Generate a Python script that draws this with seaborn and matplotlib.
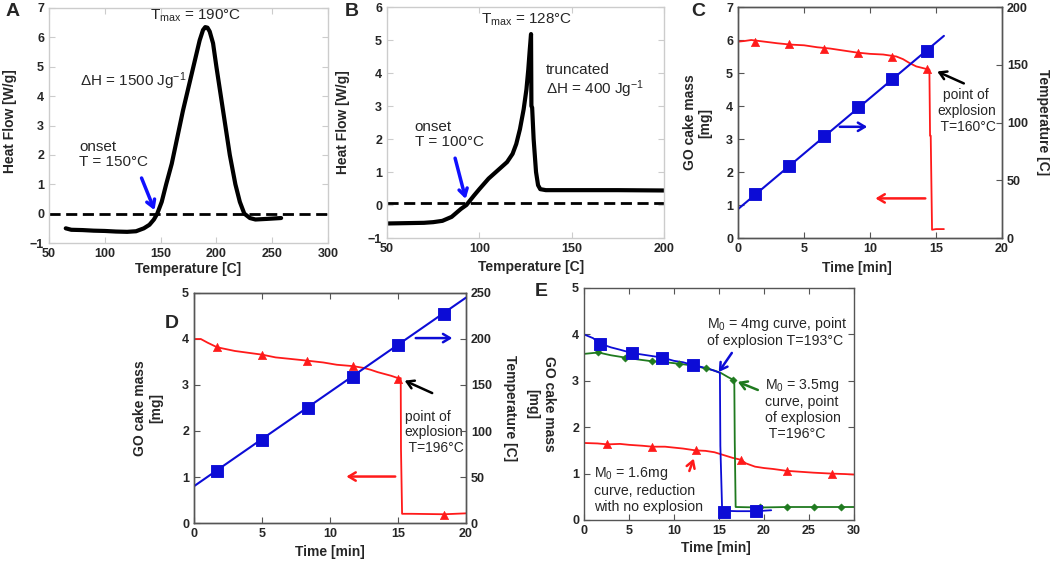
import numpy as np
import pandas as pd
import seaborn as sns
import matplotlib.pyplot as plt

# Panel A - DSC curve
a_temp = [65, 70, 80, 90, 100, 110, 120, 128, 135, 140, 144, 147, 151, 155, 160, 165, 170, 175, 180, 185, 188, 190, 192, 194, 197, 200, 204, 208, 212, 217, 221, 225, 230, 235, 245, 258]
a_flow = [-0.5, -0.55, -0.56, -0.58, -0.59, -0.61, -0.62, -0.6, -0.5, -0.38, -0.2, 0.0, 0.4, 1.0, 1.7, 2.6, 3.5, 4.3, 5.1, 5.9, 6.25, 6.35, 6.33, 6.2, 5.8, 5.0, 4.0, 3.0, 2.0, 1.0, 0.4, 0.0, -0.15, -0.2, -0.18, -0.15]

# Panel B - DSC curve (truncated)
b_temp = [50, 60, 70, 75, 80, 85, 90, 93, 97, 100, 105, 110, 115, 118, 120, 122, 124, 125.5, 126.5, 127.3, 128, 128.2, 128.6, 129.4, 130.7, 131.8, 133, 136, 150, 175, 200]
b_flow = [-0.56, -0.55, -0.54, -0.52, -0.48, -0.36, -0.12, 0.0, 0.28, 0.48, 0.8, 1.05, 1.3, 1.55, 1.85, 2.3, 2.9, 3.5, 4.1, 4.7, 5.18, 3.0, 2.95, 2.0, 1.0, 0.6, 0.48, 0.45, 0.45, 0.45, 0.44]

# Panel C
c_time = [0, 0.5, 1.0, 2.0, 3.0, 4.0, 5.0, 6.0, 7.0, 8.0, 9.0, 10.0, 11.0, 12.0, 12.5, 13.0, 13.5, 14.0, 14.5, 14.55, 14.6, 14.7, 15.0, 15.6]
c_mass = [5.95, 5.97, 6.0, 5.95, 5.9, 5.86, 5.84, 5.78, 5.74, 5.68, 5.62, 5.58, 5.56, 5.5, 5.42, 5.3, 5.2, 5.15, 5.1, 3.1, 3.1, 0.25, 0.27, 0.27]
c_mass_mk_t = [1.3, 3.9, 6.5, 9.1, 11.7, 14.3]
c_mass_mk = [5.95, 5.87, 5.74, 5.6, 5.5, 5.12]
c_temp_t = [0, 15.6]
c_temp = [25, 175]
c_temp_mk_t = [1.3, 3.9, 6.5, 9.1, 11.7, 14.3]
c_temp_mk = [38, 62, 88, 113, 138, 162]

# Panel D
d_time = [0, 0.5, 1.0, 1.7, 3.0, 4.0, 5.0, 6.0, 7.0, 8.3, 9.5, 10.5, 11.7, 12.5, 13.0, 13.5, 14.0, 14.5, 15.0, 15.2, 15.22, 15.3, 16.0, 18.4, 20.0]
d_mass = [4.0, 4.0, 3.92, 3.82, 3.74, 3.7, 3.66, 3.6, 3.57, 3.53, 3.49, 3.44, 3.41, 3.37, 3.33, 3.28, 3.24, 3.2, 3.15, 3.15, 1.6, 0.2, 0.2, 0.19, 0.21]
d_mass_mk_t = [1.7, 5.0, 8.3, 11.7, 15.0, 18.4]
d_mass_mk = [3.82, 3.65, 3.53, 3.41, 3.12, 0.18]
d_temp_t = [0, 20]
d_temp = [40, 245]
d_temp_mk_t = [1.7, 5.0, 8.35, 11.7, 15.0, 18.4]
d_temp_mk = [57, 90, 125, 159, 193, 227]

# Panel E
e4_time = [0, 1.0, 1.8, 3.0, 4.0, 5.3, 7.0, 8.7, 10.0, 11.0, 12.1, 13.0, 14.0, 15.0, 15.1, 15.15, 15.35, 17.0, 19.1, 20.8]
e4_mass = [4.0, 3.92, 3.8, 3.72, 3.67, 3.6, 3.55, 3.5, 3.43, 3.4, 3.34, 3.3, 3.25, 3.18, 3.17, 1.6, 0.2, 0.19, 0.19, 0.21]
e4_mk_t = [1.8, 5.3, 8.7, 12.1, 15.6, 19.1]
e4_mk = [3.8, 3.6, 3.5, 3.34, 0.17, 0.19]
e35_time = [0, 1.6, 3.0, 4.6, 6.0, 7.6, 9.0, 10.5, 12.0, 13.5, 14.5, 15.2, 16.0, 16.6, 16.7, 16.75, 16.85, 19.5, 22.6, 25.6, 28.6, 30.0]
e35_mass = [3.58, 3.61, 3.55, 3.5, 3.46, 3.42, 3.4, 3.37, 3.33, 3.27, 3.22, 3.17, 3.08, 3.02, 3.0, 1.7, 0.28, 0.27, 0.28, 0.28, 0.28, 0.28]
e35_mk_t = [1.6, 4.6, 7.6, 10.5, 13.5, 16.6, 19.5, 22.6, 25.6, 28.6]
e35_mk = [3.61, 3.49, 3.42, 3.37, 3.27, 3.02, 0.28, 0.28, 0.28, 0.28]
e16_time = [0, 1.5, 2.6, 4.0, 5.0, 6.5, 7.6, 9.0, 10.0, 11.0, 12.4, 13.5, 14.5, 15.5, 16.5, 17.4, 18.0, 19.0, 20.0, 21.0, 22.5, 24.0, 25.5, 27.5, 29.0, 30.0]
e16_mass = [1.66, 1.65, 1.63, 1.64, 1.62, 1.6, 1.58, 1.58, 1.56, 1.54, 1.5, 1.49, 1.46, 1.4, 1.34, 1.3, 1.22, 1.15, 1.12, 1.1, 1.06, 1.04, 1.02, 1.0, 0.99, 0.98]
e16_mk_t = [2.6, 7.6, 12.4, 17.4, 22.5, 27.5]
e16_mk = [1.63, 1.58, 1.5, 1.3, 1.06, 1.0]

RED = '#ff1a1a'
BLUE = '#0c0cd6'
GREEN = '#1f7a1f'

sns.set_style("ticks")
plt.rcParams['font.family'] = ['Liberation Sans', 'DejaVu Sans']
plt.rcParams['mathtext.fontset'] = 'custom'
plt.rcParams['mathtext.rm'] = 'Liberation Sans'
plt.rcParams['mathtext.it'] = 'Liberation Sans:italic'
plt.rcParams['mathtext.bf'] = 'Liberation Sans:bold'

fig = plt.figure(figsize=(10.5, 5.62), dpi=100)
W, H = 1050.0, 562.0

def make_ax(x0, y0, x1, y1):
    return fig.add_axes([x0 / W, 1 - y1 / H, (x1 - x0) / W, (y1 - y0) / H])

def style(ax, spine_col, right=True):
    for s in ax.spines.values():
        s.set_color(spine_col)
        s.set_linewidth(1.0)
    ax.tick_params(direction='in', length=4, top=True, right=right, color=spine_col,
                   labelsize=9, pad=3.5)
    for lab in ax.get_xticklabels() + ax.get_yticklabels():
        lab.set_fontweight('bold')

def line(ax, x, y, col, lw):
    sns.lineplot(x=x, y=y, ax=ax, color=col, lw=lw, estimator=None, sort=False)

def arrow(ax, tail, head, col, lw=1.8):
    ax.annotate('', xy=head, xytext=tail,
                arrowprops=dict(arrowstyle='->,head_length=0.5,head_width=0.3', color=col, lw=lw))

lab_kw = dict(fontsize=10, fontweight='bold')
ylab_kw = dict(fontsize=10, fontweight='bold', va='center', ha='center')

# ---- A
ax = make_ax(49, 8, 328, 243)
line(ax, a_temp, a_flow, 'black', 3)
ax.axhline(0, color='black', lw=2, ls=(0, (4, 2)))
ax.set_xlim(50, 300)
ax.set_ylim(-1, 7)
ax.set_xticks(range(50, 301, 50))
ax.set_yticks(range(-1, 8))
style(ax, '#cccccc')
ax.set_xlabel('Temperature [C]', **lab_kw)
ax.set_ylabel('Heat Flow [W/g]', **ylab_kw)
ax.xaxis.set_label_coords(0.5, -0.08)
ax.yaxis.set_label_coords(-0.14, 0.52)
ax.text(181, 6.75, r'T$_{\mathrm{max}}$ = 190°C', fontsize=11, ha='center', va='center')
ax.text(78, 4.5, r'ΔH = 1500 Jg$^{\mathrm{-1}}$', fontsize=11, va='center')
ax.text(77, 2.0, 'onset\nT = 150°C', fontsize=11, va='center', linespacing=1.1)
arrow(ax, (132, 1.3), (145.5, 0.03), '#1010ff', lw=2.5)

# ---- B
ax = make_ax(387, 7, 664, 238)
line(ax, b_temp, b_flow, 'black', 3)
ax.axhline(0.05, color='black', lw=2, ls=(0, (4, 2)))
ax.set_xlim(50, 200)
ax.set_ylim(-1, 6)
ax.set_xticks(range(50, 201, 50))
ax.set_yticks(range(-1, 7))
style(ax, '#cccccc')
ax.set_xlabel('Temperature [C]', **lab_kw)
ax.set_ylabel('Heat Flow [W/g]', **ylab_kw)
ax.xaxis.set_label_coords(0.52, -0.095)
ax.yaxis.set_label_coords(-0.16, 0.5)
ax.text(125.5, 5.6, r'T$_{\mathrm{max}}$ = 128°C', fontsize=11, ha='center', va='center')
ax.text(136, 3.73, 'truncated\nΔH = 400 Jg$^{\\mathrm{-1}}$', fontsize=11, va='center', linespacing=1.1)
ax.text(65, 2.13, 'onset\nT = 100°C', fontsize=11, va='center', linespacing=1.1)
arrow(ax, (86.5, 1.5), (93, 0.1), '#1010ff', lw=2.5)

# ---- C
ax = make_ax(738, 7, 1002, 238)
ax2 = ax.twinx()
line(ax, c_time, c_mass, RED, 1.3)
sns.scatterplot(x=c_mass_mk_t, y=c_mass_mk, ax=ax, marker='^', s=35, color=RED, edgecolor=RED, zorder=3)
line(ax2, c_temp_t, c_temp, BLUE, 1.5)
sns.scatterplot(x=c_temp_mk_t, y=c_temp_mk, ax=ax2, marker='s', s=65, color=BLUE, edgecolor=BLUE, zorder=3)
ax.set_xlim(0, 20)
ax.set_ylim(0, 7)
ax2.set_ylim(0, 200)
ax.set_xticks(range(0, 21, 5))
ax.set_yticks(range(0, 8))
ax2.set_yticks(range(0, 201, 50))
style(ax, '#555555', right=False)
style(ax2, '#555555')
ax.set_xlabel('Time [min]', **lab_kw)
ax.set_ylabel('GO cake mass\n[mg]', **ylab_kw)
ax2.set_ylabel('Temperature [C]', rotation=270, **ylab_kw)
ax.xaxis.set_label_coords(0.45, -0.10)
ax.yaxis.set_label_coords(-0.153, 0.5)
ax2.yaxis.set_label_coords(1.155, 0.5)
ax.text(17.3, 3.85, 'point of\nexplosion\n T=160°C', fontsize=10, ha='center', va='center', linespacing=1.15)
arrow(ax, (17.3, 4.65), (14.9, 5.08), 'black')
arrow(ax, (7.5, 3.37), (10.0, 3.37), BLUE)
arrow(ax, (14.4, 1.2), (10.2, 1.2), RED)

# ---- D
ax = make_ax(194, 293, 466, 523)
ax2 = ax.twinx()
line(ax, d_time, d_mass, RED, 1.3)
sns.scatterplot(x=d_mass_mk_t, y=d_mass_mk, ax=ax, marker='^', s=35, color=RED, edgecolor=RED, zorder=3)
line(ax2, d_temp_t, d_temp, BLUE, 1.5)
sns.scatterplot(x=d_temp_mk_t, y=d_temp_mk, ax=ax2, marker='s', s=65, color=BLUE, edgecolor=BLUE, zorder=3)
ax.set_xlim(0, 20)
ax.set_ylim(0, 5)
ax2.set_ylim(0, 250)
ax.set_xticks(range(0, 21, 5))
ax.set_yticks(range(0, 6))
ax2.set_yticks(range(0, 251, 50))
style(ax, '#555555', right=False)
style(ax2, '#555555')
ax.set_xlabel('Time [min]', **lab_kw)
ax.set_ylabel('GO cake mass\n[mg]', **ylab_kw)
ax2.set_ylabel('Temperature [C]', rotation=270, **ylab_kw)
ax.xaxis.set_label_coords(0.5, -0.095)
ax.yaxis.set_label_coords(-0.169, 0.5)
ax2.yaxis.set_label_coords(1.162, 0.5)
ax.text(15.5, 1.97, 'point of\nexplosion\n T=196°C', fontsize=10, va='center', linespacing=1.15)
arrow(ax, (17.7, 2.8), (15.3, 3.12), 'black')
arrow(ax, (16.1, 4.02), (19.2, 4.02), BLUE)
arrow(ax, (15.0, 1.01), (11.0, 1.01), RED)

# ---- E
ax = make_ax(584, 288, 854, 520)
line(ax, e16_time, e16_mass, RED, 1.3)
sns.scatterplot(x=e16_mk_t, y=e16_mk, ax=ax, marker='^', s=35, color=RED, edgecolor=RED, zorder=3)
line(ax, e35_time, e35_mass, GREEN, 1.3)
sns.scatterplot(x=e35_mk_t, y=e35_mk, ax=ax, marker='D', s=14, color=GREEN, edgecolor=GREEN, zorder=3)
line(ax, e4_time, e4_mass, BLUE, 1.3)
sns.scatterplot(x=e4_mk_t, y=e4_mk, ax=ax, marker='s', s=65, color=BLUE, edgecolor=BLUE, zorder=3)
ax.set_xlim(0, 30)
ax.set_ylim(0, 5)
ax.set_xticks(range(0, 31, 5))
ax.set_yticks(range(0, 6))
style(ax, '#555555')
ax.set_xlabel('Time [min]', **lab_kw)
ax.set_ylabel('GO cake mass\n[mg]', rotation=270, **ylab_kw)
ax.xaxis.set_label_coords(0.49, -0.09)
ax.yaxis.set_label_coords(-0.16, 0.5)
ax.text(13.7, 4.06, 'M$_0$ = 4mg curve, point\nof explosion T=193°C', fontsize=10.2, va='center', linespacing=1.15)
arrow(ax, (16.6, 3.65), (14.8, 3.14), BLUE)
ax.text(20.1, 2.4, 'M$_0$ = 3.5mg\ncurve, point\nof explosion\n T=196°C', fontsize=10.2, va='center', linespacing=1.15)
arrow(ax, (19.6, 2.78), (16.8, 3.0), GREEN)
ax.text(1.1, 0.66, 'M$_0$ = 1.6mg\ncurve, reduction\nwith no explosion', fontsize=10.2, va='center', linespacing=1.15)
arrow(ax, (11.6, 1.0), (12.3, 1.38), RED)

# panel letters
for letter, x, y in [('A', 13, 12), ('B', 352, 12), ('C', 698, 12), ('D', 172, 323), ('E', 541, 292)]:
    fig.text(x / W, 1 - y / H, letter, fontsize=14, fontweight='bold', ha='center', va='center')

fig.savefig('out.png', dpi=100)
